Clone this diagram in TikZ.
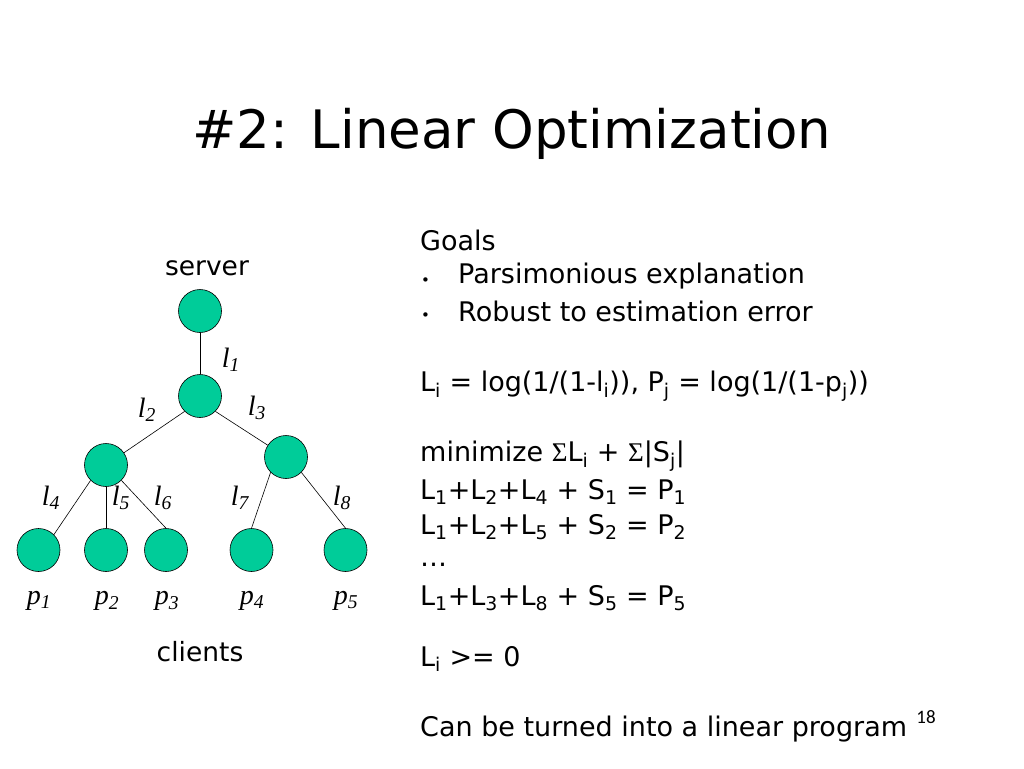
\documentclass[tikz,border=0pt]{standalone}
\usepackage{fontspec}
\setmainfont{DejaVu Sans}
\newfontfamily\tms{Liberation Serif}
\newfontfamily\carfont{Carlito}
\definecolor{nodefill}{RGB}{0,204,153}
\newcommand{\lab}[2]{{\tms\itshape #1\textsubscript{#2}}}
\newcommand{\sig}{{\tms\symbol{"03A3}}}
\tikzset{
  dot/.style={circle, draw=black, line width=0.6pt, fill=nodefill, minimum size=43pt, inner sep=0pt},
  link/.style={draw=black, line width=0.6pt},
  elab/.style={font=\fontsize{28}{28}\selectfont, inner sep=0pt},
  plab/.style={font=\fontsize{28}{28}\selectfont, inner sep=0pt},
  txt/.style={anchor=west, inner sep=0pt, font=\fontsize{27}{27}\selectfont},
  bul/.style={anchor=west, inner sep=0pt, font=\fontsize{15}{15}\selectfont},
}
\begin{document}
\begin{tikzpicture}[x=1pt,y=-1pt]
\useasboundingbox (0,0) rectangle (1024,768);
\fill[white] (0,0) rectangle (1024,768);
% title
\node[inner sep=0pt, font=\fontsize{53}{53}\selectfont] (title) at (512,134) {\#2: Linear Optimization};
% tree
\node[dot] (srv) at (200,311) {};
\node[dot] (n1) at (200,396) {};
\node[dot] (n2) at (106,465) {};
\node[dot] (n3) at (286,457) {};
\node[dot] (p1) at (38.5,550) {};
\node[dot] (p2) at (106,550) {};
\node[dot] (p3) at (166,550) {};
\node[dot] (p4) at (251.5,550) {};
\node[dot] (p5) at (345.5,550) {};
\draw[link] (srv) -- (n1);
\draw[link] (n1.south west) -- (n2);
\draw[link] (n1.south east) -- (n3);
\draw[link] (n2.south west) -- (p1.north east);
\draw[link] (n2.south) -- (p2.north);
\draw[link] (n2.south east) -- (p3.north);
\draw[link] (n3.south west) -- (p4.north);
\draw[link] (n3.south east) -- (p5.north);
% labels
\node[inner sep=0pt, font=\fontsize{26.5}{26.5}\selectfont] (server) at (207,268) {server};
\node[inner sep=0pt, font=\fontsize{26.5}{26.5}\selectfont] (clients) at (200,652) {clients};
\node[elab] (L1) at (231,360) {\lab{l}{1}};
\node[elab] (L2) at (147,410) {\lab{l}{2}};
\node[elab] (L3) at (257,408) {\lab{l}{3}};
\node[elab] (L4) at (51,498) {\lab{l}{4}};
\node[elab] (L5) at (121,498) {\lab{l}{5}};
\node[elab] (L6) at (163,498) {\lab{l}{6}};
\node[elab] (L7) at (240,498) {\lab{l}{7}};
\node[elab] (L8) at (342,498) {\lab{l}{8}};
\node[plab] (P1) at (39,601) {\lab{p}{1}};
\node[plab] (P2) at (107,601) {\lab{p}{2}};
\node[plab] (P3) at (167,601) {\lab{p}{3}};
\node[plab] (P4) at (252,601) {\lab{p}{4}};
\node[plab] (P5) at (346,601) {\lab{p}{5}};
% right text
\node[txt] (g0) at (420,240) {Goals};
\node[bul] (b1) at (421,282) {•};
\node[txt] (g1) at (458,276) {Parsimonious explanation};
\node[bul] (b2) at (421,317) {•};
\node[txt] (g2) at (458,311) {Robust to estimation error};
\node[txt] (e0) at (420,386) {L\textsubscript{i} = log(1/(1-l\textsubscript{i})), P\textsubscript{j} = log(1/(1-p\textsubscript{j}))};
\node[txt] (e1) at (420,456) {minimize \sig L\textsubscript{i} + \sig|S\textsubscript{j}|};
\node[txt] (e2) at (420,492) {L\textsubscript{1}+L\textsubscript{2}+L\textsubscript{4} + S\textsubscript{1} = P\textsubscript{1}};
\node[txt] (e3) at (420,527) {L\textsubscript{1}+L\textsubscript{2}+L\textsubscript{5} + S\textsubscript{2} = P\textsubscript{2}};
\node[txt] (e4) at (420,565) {…};
\node[txt] (e5) at (420,598) {L\textsubscript{1}+L\textsubscript{3}+L\textsubscript{8} + S\textsubscript{5} = P\textsubscript{5}};
\node[txt] (e6) at (420,659) {L\textsubscript{i} >= 0};
\node[txt] (e7) at (420,729) {Can be turned into a linear program};
\node[inner sep=0pt, font=\fontsize{19}{19}\selectfont\carfont] (pg) at (926,717) {18};
\end{tikzpicture}
\end{document}
